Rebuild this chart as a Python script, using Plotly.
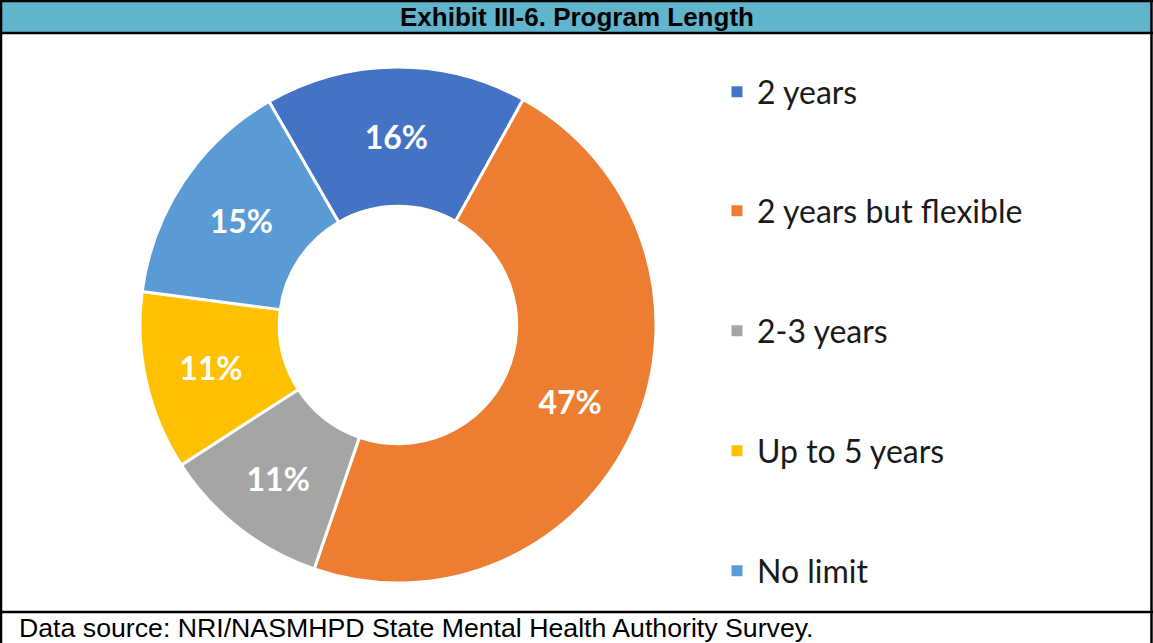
import plotly.graph_objects as go

W, H = 1153, 643

# ---- data ----
categories = ["2 years", "2 years but flexible", "2-3 years", "Up to 5 years", "No limit"]
shares = [16.4, 47.2, 10.6, 11.2, 14.6]
colors = ["#4472C4", "#ED7D31", "#A5A5A5", "#FFC000", "#5B9BD5"]
title_text = "Exhibit III-6. Program Length"
source_text = "Data source: NRI/NASMHPD State Mental Health Authority Survey."


def px_x(x):
    return x / W


def px_y(y):
    return 1 - y / H


FONT = "Lato"

fig = go.Figure()

# donut
cx, cy, r = 398, 325, 258
fig.add_trace(go.Pie(
    labels=categories,
    values=shares,
    sort=False,
    direction="clockwise",
    rotation=-30,
    hole=0.46,
    marker=dict(colors=colors, line=dict(color="white", width=3)),
    texttemplate="%{percent:.0%}",
    textposition="inside",
    insidetextorientation="horizontal",
    textfont=dict(family=FONT, size=32, color="white", weight="bold"),
    showlegend=False,
    hoverinfo="label+percent",
    domain=dict(x=[px_x(cx - r), px_x(cx + r)], y=[px_y(cy + r), px_y(cy - r)]),
))

# legend entries (one legend per category, spaced like the original)
legend_y = [92, 211, 331, 451, 571]
layout_legends = {}
for i, (cat, col) in enumerate(zip(categories, colors)):
    key = "legend" if i == 0 else f"legend{i + 1}"
    fig.add_trace(go.Scatter(
        x=[None], y=[None], mode="markers", name=cat,
        marker=dict(symbol="square", size=11, color=col),
        legend=key, showlegend=True, hoverinfo="skip",
    ))
    layout_legends[key] = dict(
        x=px_x(717), xanchor="left",
        y=px_y(legend_y[i]), yanchor="middle",
        bgcolor="rgba(0,0,0,0)", borderwidth=0,
        font=dict(family=FONT, size=32, color="#1a1a1a"),
        itemclick=False, itemdoubleclick=False,
    )

shapes = [
    # header band
    dict(type="rect", xref="paper", yref="paper",
         x0=px_x(1), x1=px_x(1152), y0=px_y(33), y1=px_y(1),
         fillcolor="#60B4CC", line=dict(width=0), layer="below"),
    # outer border
    dict(type="line", xref="paper", yref="paper", x0=px_x(0), x1=px_x(1153), y0=px_y(1), y1=px_y(1),
         line=dict(color="black", width=2.5)),
    dict(type="line", xref="paper", yref="paper", x0=px_x(1), x1=px_x(1), y0=px_y(0), y1=px_y(643),
         line=dict(color="black", width=2.5)),
    dict(type="line", xref="paper", yref="paper", x0=px_x(1151.5), x1=px_x(1151.5), y0=px_y(0), y1=px_y(643),
         line=dict(color="black", width=2.5)),
    dict(type="line", xref="paper", yref="paper", x0=px_x(0), x1=px_x(1153), y0=px_y(33), y1=px_y(33),
         line=dict(color="black", width=2.5)),
    dict(type="line", xref="paper", yref="paper", x0=px_x(0), x1=px_x(1153), y0=px_y(612), y1=px_y(612),
         line=dict(color="black", width=2.5)),
]

annotations = [
    dict(text=f"<b>{title_text}</b>", xref="paper", yref="paper",
         x=px_x(577), y=px_y(17.5), xanchor="center", yanchor="middle", showarrow=False,
         font=dict(family="Liberation Sans, Arial", size=26, color="black")),
    dict(text=source_text, xref="paper", yref="paper",
         x=px_x(17), y=px_y(628), xanchor="left", yanchor="middle", showarrow=False,
         font=dict(family="Liberation Sans, Arial", size=26.7, color="black")),
]

fig.update_layout(
    width=W, height=H,
    margin=dict(l=0, r=0, t=0, b=0),
    paper_bgcolor="white", plot_bgcolor="white",
    xaxis=dict(visible=False), yaxis=dict(visible=False),
    shapes=shapes, annotations=annotations,
    **layout_legends,
)

fig.write_html(
    "out.html",
    config={"displayModeBar": False},
    post_script="document.body.style.margin='0';document.body.style.padding='0';"
                "document.body.style.overflow='hidden';",
)
